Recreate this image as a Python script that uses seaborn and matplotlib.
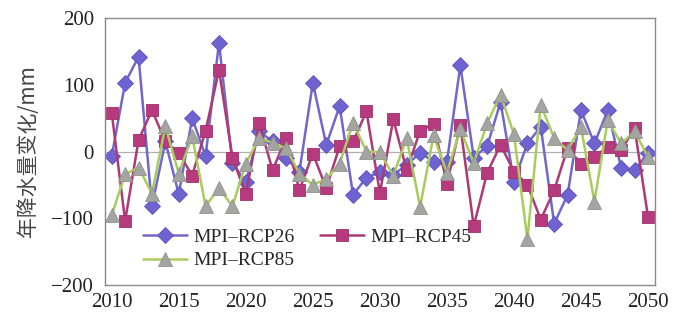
import numpy as np
import pandas as pd
import matplotlib
matplotlib.use("Agg")
import matplotlib.pyplot as plt
import seaborn as sns

years = list(range(2010, 2051))
rcp26 = [-7, 103, 142, -82, 15, -64, 50, -7, 163, -17,
         -46, 30, 15, -10, -30, 103, 10, 68, -65, -39,
         -31, -35, -20, -2, -15, -16, 129, -9, 8, 74,
         -45, 12, 37, -108, -65, 62, 12, 62, -25, -28, -2]
rcp45 = [58, -104, 17, 62, 15, -2, -36, 31, 122, -9,
         -64, 42, -28, 20, -58, -3, -55, 8, 15, 60,
         -62, 48, -28, 31, 41, -48, 39, -112, -32, 10,
         -30, -50, -102, -58, 5, -18, -8, 7, 2, 35, -98]
rcp85 = [-95, -34, -24, -63, 38, -33, 23, -82, -55, -82,
         -18, 20, 13, 5, -33, -50, -41, -18, 43, 0,
         -1, -36, 20, -83, 24, -32, 33, -17, 42, 85,
         26, -131, 70, 20, 2, 37, -75, 47, 12, 30, -8]
series_names = ["MPI\u2013RCP26", "MPI\u2013RCP45", "MPI\u2013RCP85"]
x_ticks = [2010, 2015, 2020, 2025, 2030, 2035, 2040, 2045, 2050]
y_ticks = [-200, -100, 0, 100, 200]
y_label = "年降水量变化/mm"

df = pd.DataFrame({"year": years, series_names[0]: rcp26,
                   series_names[1]: rcp45, series_names[2]: rcp85})

sns.set_style("white")
plt.rcParams["font.family"] = ["Liberation Serif", "Noto Sans CJK SC", "DejaVu Sans"]

fig = plt.figure(figsize=(6.82, 3.22), dpi=100)
ax = fig.add_axes([0.154, 0.115, 0.806, 0.829])

ax.axhline(0, color="#b0b0b0", lw=0.9, zorder=1)

styles = {
    series_names[0]: dict(color="#7268cc", marker="D", markersize=8.5,
                          markerfacecolor="#6f63d2", markeredgecolor="#5c52bc"),
    series_names[1]: dict(color="#ad3a74", marker="s", markersize=9,
                          markerfacecolor="#b83a7e", markeredgecolor="#a0306c"),
    series_names[2]: dict(color="#aacb5e", marker="^", markersize=9.5,
                          markerfacecolor="#a3a6a0", markeredgecolor="#8f938c"),
}
for name in series_names:
    st = styles[name]
    sns.lineplot(data=df, x="year", y=name, ax=ax, label=name, lw=1.8,
                 color=st["color"], marker=st["marker"], markersize=st["markersize"],
                 markerfacecolor=st["markerfacecolor"],
                 markeredgecolor=st["markeredgecolor"], markeredgewidth=0.6)

ax.set_xlim(2009.5, 2050.5)
ax.set_ylim(-200, 200)
ax.set_xticks(x_ticks)
ax.set_yticks(y_ticks)
ax.set_xlabel("")
ax.set_ylabel(y_label, fontsize=15, family=["Noto Sans CJK SC", "DejaVu Sans"],
              color="#444444", labelpad=9)
ax.tick_params(axis="both", labelsize=15, colors="#222222", length=0, pad=6)
ax.tick_params(axis="y", length=4, direction="out", color="#888888", pad=4)
for s in ax.spines.values():
    s.set_color("#8a8a8a")
    s.set_linewidth(1.0)

h, l = ax.get_legend_handles_labels()
order = [0, 2, 1]
ax.legend([h[i] for i in order], [l[i] for i in order], ncol=2,
          loc="lower left", bbox_to_anchor=(0.04, 0.0), frameon=False,
          fontsize=14, handlelength=2.3, columnspacing=1.3,
          labelspacing=0.3, handletextpad=0.3, borderpad=0.3)

fig.savefig("out.png", dpi=100)
